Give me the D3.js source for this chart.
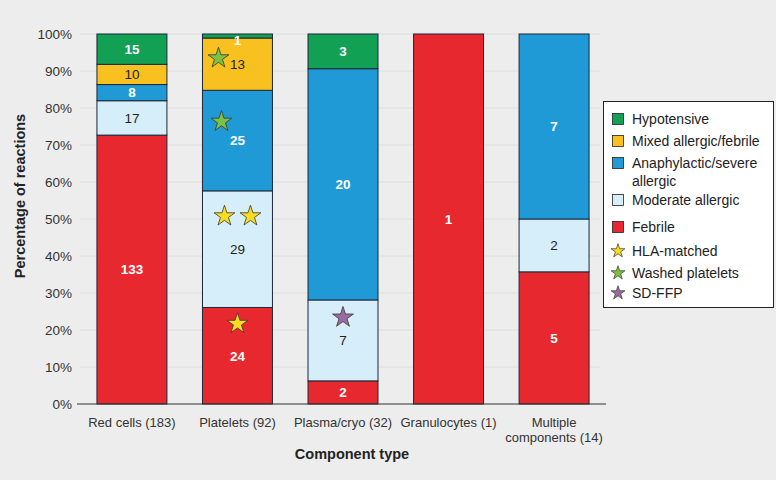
<!DOCTYPE html>
<html lang="en">
  <head>
    <meta charset="UTF-8" />
    <title>Reactions by component type</title>
    <style>
      body { margin: 0; background: #ededed; }
      svg { font-family: "Liberation Sans", Arial, sans-serif; display: block; }
    </style>
  </head>
  <body>
    <script src="https://d3js.org/d3.v7.min.js"></script>
    <script>
      const width = 776
      const height = 480

      // data (number of reactions)
      const categories = ["Red cells (183)", "Platelets (92)", "Plasma/cryo (32)", "Granulocytes (1)", "Multiple components (14)"]
      const seriesNames = ["Febrile", "Moderate allergic", "Anaphylactic/severe allergic", "Mixed allergic/febrile", "Hypotensive"]
      const febrile = [133, 24, 2, 1, 5]
      const moderate = [17, 29, 7, 0, 2]
      const anaphylactic = [8, 25, 20, 0, 7]
      const mixed = [10, 13, 0, 0, 0]
      const hypotensive = [15, 1, 3, 0, 0]
      const yTicks = [0, 0.1, 0.2, 0.3, 0.4, 0.5, 0.6, 0.7, 0.8, 0.9, 1]

      // star markers: which bar / segment they sit in
      const starTypes = ["HLA-matched", "Washed platelets", "SD-FFP"]
      const stars = [
        { cat: "Platelets (92)", seg: "Febrile", type: "HLA-matched", dx: 0, dy: -33 },
        { cat: "Platelets (92)", seg: "Moderate allergic", type: "HLA-matched", dx: -13, dy: -34 },
        { cat: "Platelets (92)", seg: "Moderate allergic", type: "HLA-matched", dx: 13, dy: -34 },
        { cat: "Platelets (92)", seg: "Anaphylactic/severe allergic", type: "Washed platelets", dx: -16, dy: -20 },
        { cat: "Platelets (92)", seg: "Mixed allergic/febrile", type: "Washed platelets", dx: -19, dy: -7 },
        { cat: "Plasma/cryo (32)", seg: "Moderate allergic", type: "SD-FFP", dx: 0, dy: -24 }
      ]

      const colors = {
        "Febrile": "#e8282f",
        "Moderate allergic": "#d6eefa",
        "Anaphylactic/severe allergic": "#1f9ad7",
        "Mixed allergic/febrile": "#f9c11f",
        "Hypotensive": "#12a055"
      }
      const darkText = { "Moderate allergic": true, "Mixed allergic/febrile": true }
      const starColors = { "HLA-matched": "#f7dc22", "Washed platelets": "#7cc142", "SD-FFP": "#9a6aa8" }

      const table = categories.map((c, i) => ({
        cat: c,
        "Febrile": febrile[i],
        "Moderate allergic": moderate[i],
        "Anaphylactic/severe allergic": anaphylactic[i],
        "Mixed allergic/febrile": mixed[i],
        "Hypotensive": hypotensive[i]
      }))

      const stacked = d3.stack().keys(seriesNames).offset(d3.stackOffsetExpand)(table)

      const svg = d3.select("body").append("svg")
        .attr("width", width)
        .attr("height", height)

      const x = d3.scaleBand().domain(categories).range([79, 607]).paddingInner(0.337).paddingOuter(0.17)
      const y = d3.scaleLinear().domain([0, 1]).range([404, 34])

      // grid
      svg.append("g")
        .selectAll("line")
        .data(yTicks.slice(1))
        .join("line")
        .attr("x1", 80).attr("x2", 600)
        .attr("y1", d => y(d)).attr("y2", d => y(d))
        .attr("stroke", "#dedede")

      // y axis labels
      const yAxis = svg.append("g")
        .attr("transform", "translate(78,0)")
        .call(d3.axisLeft(y).tickValues(yTicks).tickFormat(d3.format(".0%")).tickSize(0).tickPadding(6))
      yAxis.select(".domain").remove()
      yAxis.selectAll("text").attr("font-size", 13.5).attr("fill", "#333").attr("font-family", null)

      // bars
      const layer = svg.append("g")
        .selectAll("g")
        .data(stacked)
        .join("g")
        .attr("fill", d => colors[d.key])

      layer.selectAll("rect")
        .data(d => d.filter(s => s[1] - s[0] > 0))
        .join("rect")
        .attr("x", d => x(d.data.cat))
        .attr("width", x.bandwidth())
        .attr("y", d => y(d[1]))
        .attr("height", d => y(d[0]) - y(d[1]))
        .attr("stroke", "#1c2838")
        .attr("stroke-width", 1)

      // axis line at 0
      svg.append("line")
        .attr("x1", 77).attr("x2", 606)
        .attr("y1", y(0)).attr("y2", y(0))
        .attr("stroke", "#333")

      // segment labels
      stacked.forEach(s => {
        s.forEach(d => {
          const v = d.data[s.key]
          if (!v) return
          let cy = (y(d[0]) + y(d[1])) / 2
          if (y(d[0]) - y(d[1]) < 12) cy = y(d[1]) + 6
          svg.append("text")
            .attr("x", x(d.data.cat) + x.bandwidth() / 2)
            .attr("y", cy)
            .attr("dy", "0.36em")
            .attr("text-anchor", "middle")
            .attr("font-size", 13.5)
            .attr("font-weight", darkText[s.key] ? "normal" : "bold")
            .attr("fill", darkText[s.key] ? "#222" : "#fff")
            .text(v)
        })
      })

      // stars
      const star = d3.symbol().type(d3.symbolStar)
      stars.forEach(st => {
        const s = stacked.find(k => k.key === st.seg)
        const d = s[categories.indexOf(st.cat)]
        const cy = (y(d[0]) + y(d[1])) / 2 + st.dy
        svg.append("path")
          .attr("d", star.size(135)())
          .attr("transform", `translate(${x(st.cat) + x.bandwidth() / 2 + st.dx},${cy + 1})`)
          .attr("fill", starColors[st.type])
          .attr("stroke", "#3a3a2a")
          .attr("stroke-width", 0.8)
      })

      // x labels
      svg.append("g")
        .selectAll("text")
        .data(categories)
        .join("text")
        .attr("x", d => x(d) + x.bandwidth() / 2)
        .attr("y", 427)
        .attr("text-anchor", "middle")
        .attr("font-size", 13)
        .attr("fill", "#333")
        .each(function (d) {
          const t = d3.select(this)
          const lines = d === "Multiple components (14)" ? ["Multiple", "components (14)"] : [d]
          lines.forEach((l, i) => t.append("tspan").attr("x", x(d) + x.bandwidth() / 2).attr("dy", i ? 15 : 0).text(l))
        })

      // axis titles
      svg.append("text")
        .attr("x", 352).attr("y", 459)
        .attr("text-anchor", "middle")
        .attr("font-size", 14.5).attr("font-weight", "bold").attr("fill", "#222")
        .text("Component type")
      svg.append("text")
        .attr("transform", "translate(25,196) rotate(-90)")
        .attr("text-anchor", "middle")
        .attr("font-size", 14.5).attr("font-weight", "bold").attr("fill", "#222")
        .text("Percentage of reactions")

      // legend
      const lg = svg.append("g")
      lg.append("rect")
        .attr("x", 603.5).attr("y", 101.5).attr("width", 170).attr("height", 206)
        .attr("fill", "#fff").attr("stroke", "#222")
      const legendItems = seriesNames.slice().reverse()
      const legendY = [119, 141, 163, 200, 227]
      legendItems.forEach((name, i) => {
        lg.append("rect")
          .attr("x", 612.5).attr("y", legendY[i] - 5.5).attr("width", 11).attr("height", 11)
          .attr("fill", colors[name]).attr("stroke", "#222").attr("stroke-width", 0.8)
        const t = lg.append("text")
          .attr("x", 632).attr("y", legendY[i])
          .attr("font-size", 14).attr("fill", "#222")
        const lines = name === "Anaphylactic/severe allergic" ? ["Anaphylactic/severe", "allergic"] : [name]
        lines.forEach((l, j) => t.append("tspan").attr("x", 632).attr("dy", j ? 18 : "0.36em").text(l))
      })
      const starY = [251, 273, 293]
      starTypes.forEach((name, i) => {
        lg.append("path")
          .attr("d", star.size(60)())
          .attr("transform", `translate(618,${starY[i]})`)
          .attr("fill", starColors[name])
          .attr("stroke", "#3a3a2a").attr("stroke-width", 0.7)
        lg.append("text")
          .attr("x", 632).attr("y", starY[i]).attr("dy", "0.36em")
          .attr("font-size", 14).attr("fill", "#222")
          .text(name)
      })
    </script>
  </body>
</html>
